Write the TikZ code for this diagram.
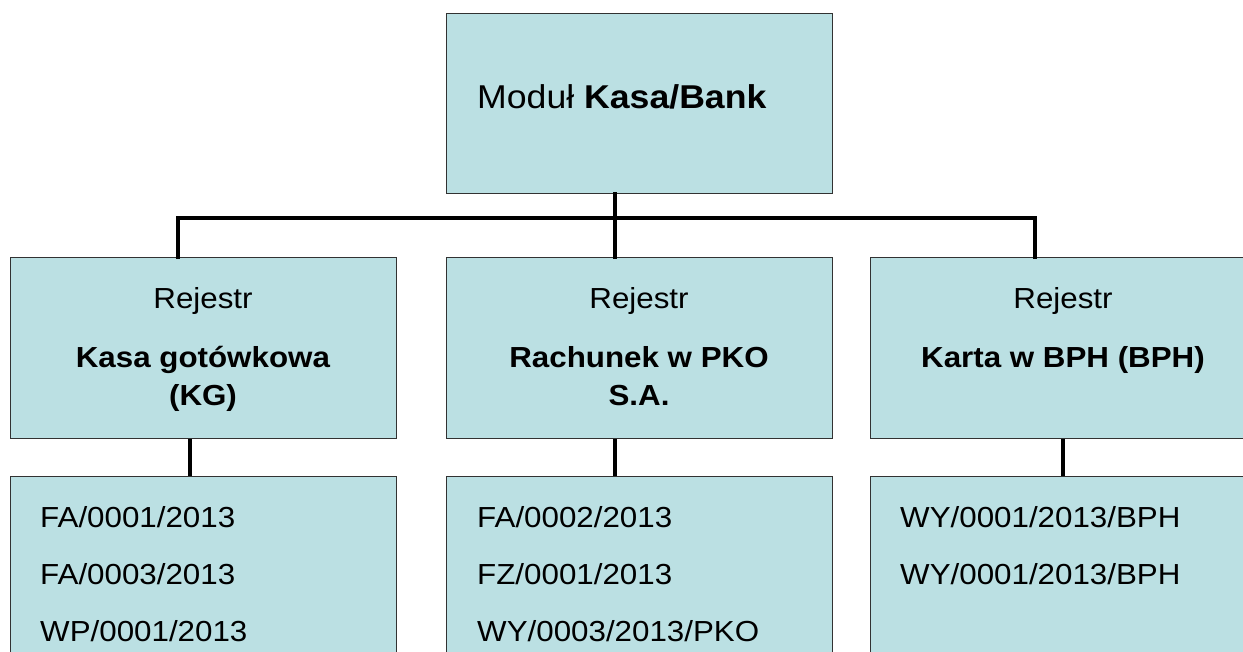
\documentclass[tikz,border=0pt]{standalone}
\usepackage{fontspec}
\setmainfont[FakeStretch=1.08]{Liberation Sans}
\definecolor{boxfill}{RGB}{187,224,227}
\definecolor{boxline}{RGB}{50,50,50}
\begin{document}
\begin{tikzpicture}[x=1pt,y=-1pt,
  box/.style={draw=boxline,line width=1.4pt,fill=boxfill,inner sep=0pt,
    minimum width=386pt,anchor=north west},
  bus/.style={line width=4.5pt,line cap=rect},
  txt/.style={inner sep=0pt,font=\fontsize{29}{34}\selectfont},
]
\useasboundingbox (0,0) rectangle (1243,651);
\clip (0,0) rectangle (1243,651);
% boxes
\node[box,minimum height=180pt] (top) at (446,13) {};
\node[box,minimum height=181pt] (r1) at (10,257) {};
\node[box,minimum height=181pt] (r2) at (446,257) {};
\node[box,minimum height=181pt] (r3) at (870,257) {};
\node[box,minimum height=240pt] (b1) at (10,476) {};
\node[box,minimum height=240pt] (b2) at (446,476) {};
\node[box,minimum height=240pt] (b3) at (870,476) {};
% connectors
\coordinate (busL) at (178,218);
\coordinate (busM) at (615,218);
\coordinate (busR) at (1035,218);
\draw[bus] (top.south -| busM) -- (r2.north -| busM);
\draw[bus] (r1.north -| busL) -- (busL) -- (busR) -- (r3.north -| busR);
\coordinate (c1) at (190,0);
\coordinate (c2) at (615,0);
\coordinate (c3) at (1063,0);
\draw[bus,line cap=butt] (r1.south -| c1) -- (b1.north -| c1);
\draw[bus,line cap=butt] (r2.south -| c2) -- (b2.north -| c2);
\draw[bus,line cap=butt] (r3.south -| c3) -- (b3.north -| c3);
% top text
\node[txt,anchor=base west,font=\fontsize{33}{38}\selectfont] (tt) at (477,108) {Moduł \textbf{Kasa/Bank}};
% middle texts
\node[txt,anchor=base] (r1a) at (203,308) {Rejestr};
\node[txt,anchor=base] (r1b) at (203,367) {\textbf{Kasa gotówkowa}};
\node[txt,anchor=base] (r1c) at (203,405) {\textbf{(KG)}};
\node[txt,anchor=base] (r2a) at (639,308) {Rejestr};
\node[txt,anchor=base] (r2b) at (639,367) {\textbf{Rachunek w PKO}};
\node[txt,anchor=base] (r2c) at (639,405) {\textbf{S.A.}};
\node[txt,anchor=base] (r3a) at (1063,308) {Rejestr};
\node[txt,anchor=base] (r3b) at (1063,367) {\textbf{Karta w BPH (BPH)}};
% bottom texts
\node[txt,anchor=base west] (b1a) at (40,527) {FA/0001/2013};
\node[txt,anchor=base west] (b1b) at (40,584) {FA/0003/2013};
\node[txt,anchor=base west] (b1c) at (40,641) {WP/0001/2013};
\node[txt,anchor=base west] (b2a) at (477,527) {FA/0002/2013};
\node[txt,anchor=base west] (b2b) at (477,584) {FZ/0001/2013};
\node[txt,anchor=base west] (b2c) at (477,641) {WY/0003/2013/PKO};
\node[txt,anchor=base west] (b3a) at (900,527) {WY/0001/2013/BPH};
\node[txt,anchor=base west] (b3b) at (900,584) {WY/0001/2013/BPH};
\end{tikzpicture}
\end{document}
